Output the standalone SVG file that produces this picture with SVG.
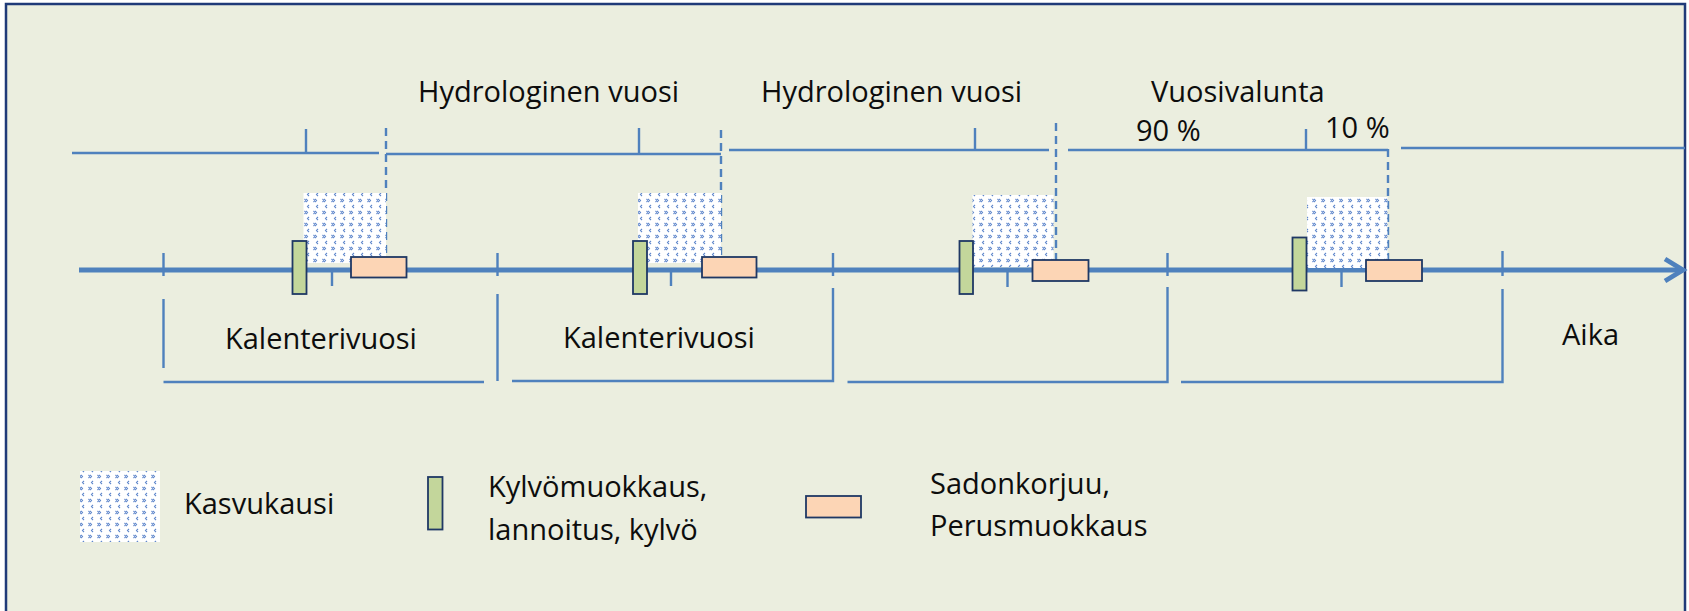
<svg xmlns="http://www.w3.org/2000/svg" width="1689" height="611" viewBox="0 0 1689 611">
<style>
.t{font-family:"Open Sans","Noto Sans","Liberation Sans",sans-serif;font-size:29px;fill:#0d0d0d}
.ln{stroke:#4f81bd;stroke-width:2.4;fill:none}
.ax{stroke:#4f81bd;stroke-width:4.8;fill:none}
.ds{stroke:#4f81bd;stroke-width:2.4;fill:none;stroke-dasharray:8 5}
.gr{fill:#c3d69b;stroke:#1f3864;stroke-width:1.8}
.sa{fill:#fcd5b5;stroke:#1f3864;stroke-width:1.8}
.pt{fill:url(#kas)}
</style>
<defs>
<pattern id="kas" width="9" height="12" patternUnits="userSpaceOnUse">
<rect width="9" height="12" fill="#ffffff"/>
<path d="M3 1 L1.5 2.5 L3 4 M7.5 7 L9 8.5 L7.5 10 M0 7 L1.5 8.5 L0 10" stroke="#5f87cc" stroke-width="1.1" fill="none"/>
</pattern>
</defs>
<rect x="6" y="4" width="1679" height="620" fill="#ebeedf" stroke="#1f3a78" stroke-width="2.5"/>

<g id="connectors">
<path class="ln" d="M72 153H379M306 129V153"/>
<path class="ln" d="M386 154H721M639 128V153"/>
<path class="ln" d="M729 150H1049M975 128V150"/>
<path class="ln" d="M1068 150H1388M1306 129V150"/>
<path class="ln" d="M1401 148H1685"/>
<path class="ds" d="M386 128V257"/>
<path class="ds" d="M721 130V256"/>
<path class="ds" d="M1056 123V260"/>
<path class="ds" d="M1388 149V260"/>
<path class="ax" d="M79 270H1683"/>
<path class="ax" d="M1665 259L1683 270L1665 281" stroke-linejoin="miter"/>
<path class="ln" d="M163.5 253V276M497.5 253V276M833 253V276M1167.5 253V276M1502.5 251V276"/>
<path class="ln" d="M332 270V286M671 270V286M1007.5 270V287M1341.5 270V287"/>
<path class="ln" d="M163.5 299V368M163.5 382H484"/>
<path class="ln" d="M497.5 294V381M512 381H833V288"/>
<path class="ln" d="M847.5 382H1167.5V287"/>
<path class="ln" d="M1181 382H1502.5V289"/>
</g>

<g id="season1">
<rect class="pt" x="303.5" y="193" width="82.5" height="70"/>
<rect class="gr" x="292.5" y="241" width="14" height="53"/>
<rect class="sa" x="351" y="257" width="55.5" height="20.5"/>
</g>
<g id="season2">
<rect class="pt" x="638" y="193" width="83" height="70"/>
<rect class="gr" x="633" y="241" width="14" height="53"/>
<rect class="sa" x="702" y="257" width="54.5" height="20.5"/>
</g>
<g id="season3">
<rect class="pt" x="972.5" y="195" width="81" height="72"/>
<rect class="gr" x="959.5" y="241" width="13.5" height="53"/>
<rect class="sa" x="1032.5" y="260" width="56" height="21"/>
</g>
<g id="season4">
<rect class="pt" x="1307" y="197" width="80.5" height="71"/>
<rect class="gr" x="1292.5" y="237.5" width="14" height="53"/>
<rect class="sa" x="1366" y="260" width="56" height="21"/>
</g>

<g id="labels">
<text class="t" x="418" y="102">Hydrologinen vuosi</text>
<text class="t" x="761" y="102">Hydrologinen vuosi</text>
<text class="t" x="1151" y="102">Vuosivalunta</text>
<text class="t" x="1136" y="141">90 %</text>
<text class="t" x="1325" y="138">10 %</text>
<text class="t" x="225" y="349">Kalenterivuosi</text>
<text class="t" x="563" y="348">Kalenterivuosi</text>
<text class="t" x="1562" y="345">Aika</text>
</g>

<g id="legend-kasvukausi">
<rect class="pt" x="80" y="471" width="80" height="71"/>
<text class="t" x="184" y="514">Kasvukausi</text>
</g>
<g id="legend-kylvo">
<rect class="gr" x="428" y="477" width="14.5" height="52.5"/>
<text class="t" x="488" y="497">Kylvömuokkaus,</text>
<text class="t" x="488" y="540">lannoitus, kylvö</text>
</g>
<g id="legend-sadonkorjuu">
<rect class="sa" x="806" y="496" width="55" height="21.5"/>
<text class="t" x="930" y="494">Sadonkorjuu,</text>
<text class="t" x="930" y="536">Perusmuokkaus</text>
</g>
</svg>
